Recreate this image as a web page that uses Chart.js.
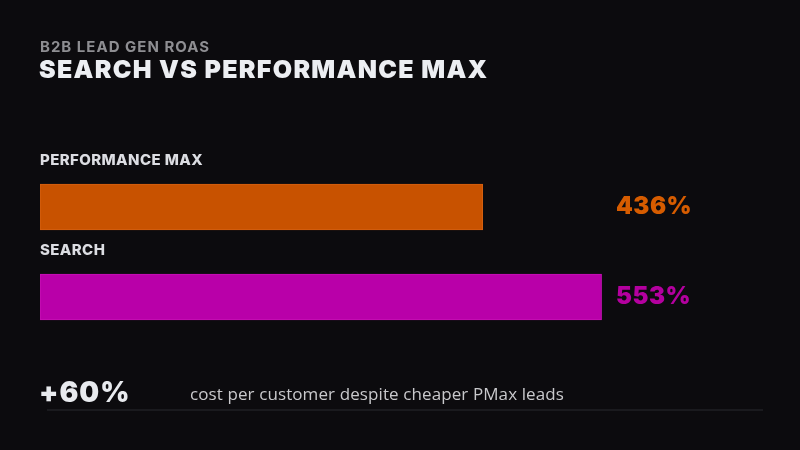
<!DOCTYPE html>
<html><head><meta charset="utf-8">
<script src="https://cdn.jsdelivr.net/npm/chart.js@4"></script>
<style>
html,body{margin:0;padding:0;background:#0c0b0e;width:800px;height:450px;overflow:hidden;}
#wrap{position:relative;width:800px;height:450px;}
canvas{position:absolute;left:0;top:0;}
.t{position:absolute;white-space:nowrap;}
#sub{left:40px;top:37px;font:700 15px "Inter","DejaVu Sans",sans-serif;color:#8e8e92;letter-spacing:1px;}
#title{left:39px;top:54px;font:900 25px "Inter","DejaVu Sans",sans-serif;color:#eceef2;letter-spacing:1.3px;}
#big{left:39px;top:375px;font:900 28px "Inter","DejaVu Sans",sans-serif;color:#e8eaee;letter-spacing:1px;}
#note{left:190px;top:382px;font:400 17px "Open Sans","DejaVu Sans",sans-serif;color:#c9c9cc;letter-spacing:0.1px;}
#rule{position:absolute;left:47px;top:409px;width:716px;height:2px;background:#1a1a1e;}
</style></head>
<body><div id="wrap">
<canvas id="c" width="800" height="450"></canvas>
<div class="t" id="sub">B2B LEAD GEN ROAS</div>
<div class="t" id="title">SEARCH VS PERFORMANCE MAX</div>
<div class="t" id="big">+60%</div>
<div class="t" id="note">cost per customer despite cheaper PMax leads</div>
<div id="rule"></div>
</div>
<script>
const categories = ["PERFORMANCE MAX", "SEARCH"];
const roasValues = [436, 553];
const valueLabels = ["436%", "553%"];
const barColors = ["#c85200", "#b900a9"];
const labelColors = ["#d65c00", "#b4009f"];

const labelPlugin = {
  id: 'labels',
  afterDatasetsDraw(chart) {
    const ctx = chart.ctx;
    const meta = chart.getDatasetMeta(0);
    ctx.save();
    meta.data.forEach((bar, i) => {
      const top = bar.y - bar.height / 2;
      ctx.font = '800 15px "Inter","DejaVu Sans",sans-serif';
      ctx.fillStyle = '#dcdde2';
      ctx.textBaseline = 'middle';
      ctx.textAlign = 'left';
      ctx.letterSpacing = '0.4px';
      ctx.fillText(categories[i], 40, top - 24);
      ctx.font = '900 24px "Inter","DejaVu Sans",sans-serif';
      ctx.letterSpacing = '0.5px';
      ctx.fillStyle = labelColors[i];
      ctx.fillText(valueLabels[i], 616, bar.y);
    });
    ctx.restore();
  }
};

new Chart(document.getElementById('c'), {
  type: 'bar',
  data: {
    labels: categories,
    datasets: [{
      data: roasValues,
      backgroundColor: barColors,
      borderColor: ["#d66010", "#c810b6"],
      borderWidth: 1,
      barThickness: 46,
      borderSkipped: false
    }]
  },
  options: {
    indexAxis: 'y',
    responsive: false,
    animation: false,
    layout: { padding: { top: 162, bottom: 108, left: 40, right: 40 } },
    plugins: { legend: { display: false }, tooltip: { enabled: false } },
    scales: {
      x: { display: false, min: 0, max: 709 },
      y: { display: false }
    }
  },
  plugins: [labelPlugin]
});
</script>
</body></html>
